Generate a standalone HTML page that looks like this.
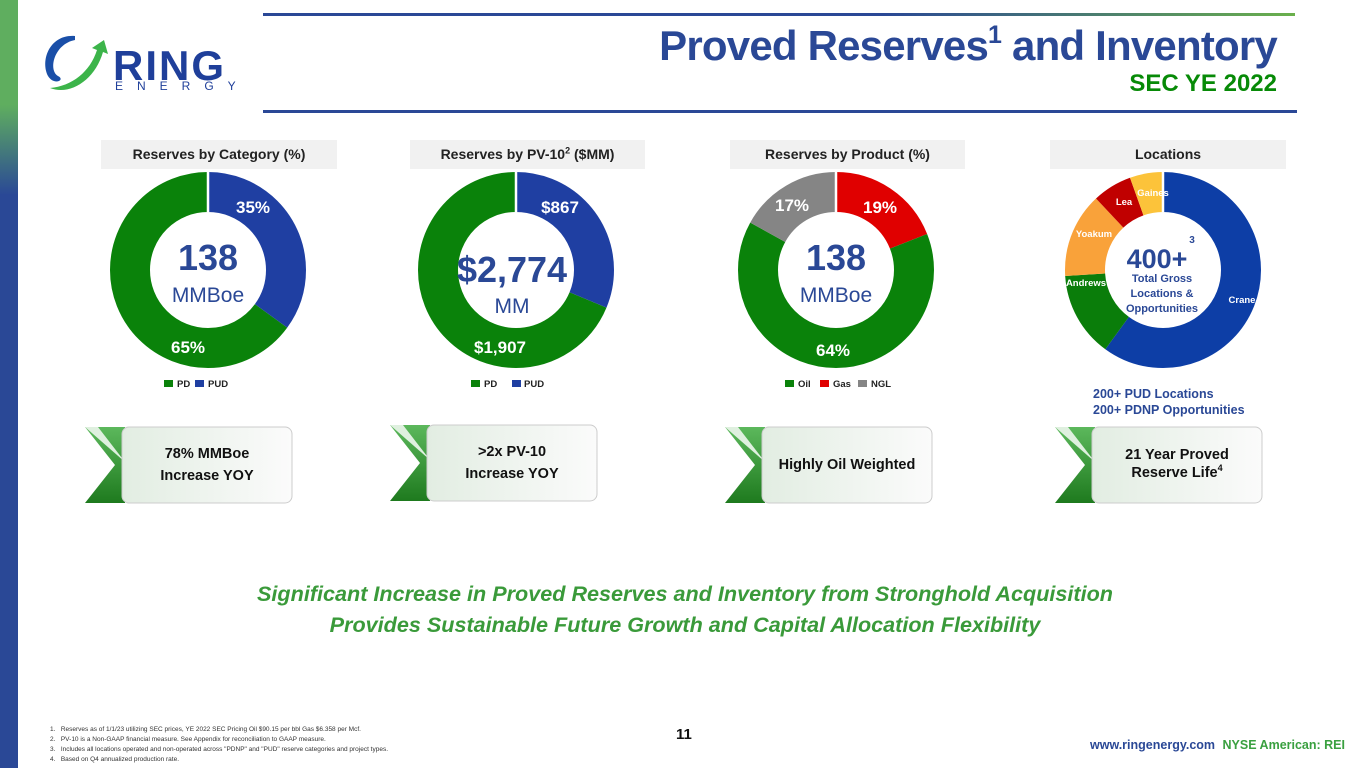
<!DOCTYPE html>
<html><head><meta charset="utf-8"><style>
body{margin:0;width:1365px;height:768px;overflow:hidden;background:#fff;font-family:"Liberation Sans",sans-serif;position:relative}
.a{position:absolute;white-space:nowrap}
.band{position:absolute;top:140px;height:29px;background:#f1f1f1;font-weight:bold;font-size:14px;color:#222;text-align:center;line-height:29px}
.bt{position:absolute;font-weight:bold;font-size:14.5px;color:#111;text-align:center;line-height:22px}
.ft{font-size:6.5px;color:#333;line-height:10px}
</style></head><body>
<div class="a" style="left:0;top:0;width:18px;height:768px;background:linear-gradient(#5fae5f 0,#5fae5f 105px,#2a4896 195px,#2a4896 100%)"></div>
<div class="a" style="left:263px;top:13px;width:1032px;height:3px;background:linear-gradient(90deg,#2a4896 0,#2a4896 60%,#6ab04c 100%)"></div>
<div class="a" style="left:263px;top:110px;width:1034px;height:3px;background:#2a4896"></div>
<!-- logo -->
<svg class="a" style="left:40px;top:30px" width="200" height="70">
<path d="M35 6 C10 4 0 30 8 46 C14 56 26 50 18 46 C8 40 14 14 35 10 Z" fill="#1a4fa8"/>
<path d="M10 58 C30 66 55 50 63 22 L68 24 L64 10 L52 18 L57 20 C50 42 32 56 10 58 Z" fill="#3cb44a"/>
<text x="73" y="50" font-family="Liberation Sans" font-weight="bold" font-size="42" fill="#1f3f9a" letter-spacing="2">RING</text>
<text x="75" y="60" font-family="Liberation Sans" font-size="12" fill="#1f3f9a" letter-spacing="14">ENERGY</text>
</svg>
<div class="a" style="right:88px;top:22px;font-size:42px;font-weight:bold;color:#2a4896;letter-spacing:-0.8px">Proved Reserves<sup style="font-size:25px;vertical-align:17px;line-height:0">1</sup> and Inventory</div>
<div class="a" style="right:88px;top:70px;font-size:24px;font-weight:bold;color:#078a07">SEC YE 2022</div>

<div class="band" style="left:101px;width:236px">Reserves by Category (%)</div>
<div class="band" style="left:410px;width:235px">Reserves by PV-10<sup style="font-size:9px;line-height:0">2</sup> ($MM)</div>
<div class="band" style="left:730px;width:235px">Reserves by Product (%)</div>
<div class="band" style="left:1050px;width:236px">Locations</div>

<svg class="a" style="left:0;top:0" width="1365" height="420" font-family="Liberation Sans" font-weight="bold">
<g fill="none" stroke-width="40">
<g transform="rotate(-90 208 270)">
<circle cx="208" cy="270" r="78" stroke="#0a820a" stroke-dasharray="318.56 490.09" stroke-dashoffset="-171.53"/>
<circle cx="208" cy="270" r="78" stroke="#1f3fa2" stroke-dasharray="171.53 490.09"/>
</g>
<g transform="rotate(-90 516 270)">
<circle cx="516" cy="270" r="78" stroke="#0a820a" stroke-dasharray="336.9 490.09" stroke-dashoffset="-153.2"/>
<circle cx="516" cy="270" r="78" stroke="#1f3fa2" stroke-dasharray="153.2 490.09"/>
</g>
<g transform="rotate(-90 836 270)">
<circle cx="836" cy="270" r="78" stroke="#e00000" stroke-dasharray="93.1 490.09"/>
<circle cx="836" cy="270" r="78" stroke="#0a820a" stroke-dasharray="313.7 490.09" stroke-dashoffset="-93.1"/>
<circle cx="836" cy="270" r="78" stroke="#858585" stroke-dasharray="83.3 490.09" stroke-dashoffset="-406.8"/>
</g>
<g transform="rotate(-90 1163 270)">
<circle cx="1163" cy="270" r="78" stroke="#0d3ea6" stroke-dasharray="294 490.09"/>
<circle cx="1163" cy="270" r="78" stroke="#0a7d0a" stroke-dasharray="68.6 490.09" stroke-dashoffset="-294"/>
<circle cx="1163" cy="270" r="78" stroke="#f9a23a" stroke-dasharray="68.6 490.09" stroke-dashoffset="-362.6"/>
<circle cx="1163" cy="270" r="78" stroke="#c00000" stroke-dasharray="31.9 490.09" stroke-dashoffset="-431.2"/>
<circle cx="1163" cy="270" r="78" stroke="#fcc33a" stroke-dasharray="27 490.09" stroke-dashoffset="-463.1"/>
</g>
</g>
<g stroke="#fff" stroke-width="2.5">
<line x1="208" y1="172" x2="208" y2="212"/><line x1="516" y1="172" x2="516" y2="212"/><line x1="836" y1="172" x2="836" y2="212"/><line x1="1163" y1="172" x2="1163" y2="212"/>
</g>
<g fill="#fff" font-size="17" text-anchor="middle">
<text x="253" y="213">35%</text><text x="188" y="353">65%</text>
<text x="560" y="213">$867</text><text x="500" y="353">$1,907</text>
<text x="880" y="213">19%</text><text x="792" y="211">17%</text><text x="833" y="356">64%</text>
</g>
<g fill="#fff" font-size="9.5" text-anchor="middle">
<text x="1242" y="303">Crane</text><text x="1086" y="286">Andrews</text><text x="1094" y="237">Yoakum</text><text x="1124" y="205">Lea</text><text x="1153" y="196">Gaines</text>
</g>
<g fill="#2a4896" text-anchor="middle">
<text x="208" y="270" font-size="36">138</text><text x="208" y="302" font-size="21" font-weight="normal">MMBoe</text>
<text x="512" y="282" font-size="36">$2,774</text><text x="512" y="313" font-size="21" font-weight="normal">MM</text>
<text x="836" y="270" font-size="36">138</text><text x="836" y="302" font-size="21" font-weight="normal">MMBoe</text>
<text x="1157" y="268" font-size="27">400+</text><text x="1192" y="243" font-size="10">3</text>
<text x="1162" y="282" font-size="11">Total Gross</text><text x="1162" y="297" font-size="11">Locations &amp;</text><text x="1162" y="312" font-size="11">Opportunities</text>
</g>
<g font-size="9.5" fill="#222">
<rect x="164" y="380" width="9" height="7" fill="#0a820a"/><text x="177" y="387">PD</text>
<rect x="195" y="380" width="9" height="7" fill="#1f3fa2"/><text x="208" y="387">PUD</text>
<rect x="471" y="380" width="9" height="7" fill="#0a820a"/><text x="484" y="387">PD</text>
<rect x="512" y="380" width="9" height="7" fill="#1f3fa2"/><text x="524" y="387">PUD</text>
<rect x="785" y="380" width="9" height="7" fill="#0a820a"/><text x="798" y="387">Oil</text>
<rect x="820" y="380" width="9" height="7" fill="#e00000"/><text x="833" y="387">Gas</text>
<rect x="858" y="380" width="9" height="7" fill="#858585"/><text x="871" y="387">NGL</text>
</g>
<g fill="#2a4896" font-size="12.5"><text x="1093" y="398">200+ PUD Locations</text><text x="1093" y="414">200+ PDNP Opportunities</text></g>
</svg>

<svg class="a" style="left:0;top:420px" width="1365" height="90">
<defs>
<linearGradient id="g" x1="0" x2="0" y1="0" y2="1"><stop offset="0" stop-color="#5cb85c"/><stop offset="1" stop-color="#1e7a1e"/></linearGradient>
<linearGradient id="w" x1="0" x2="1"><stop offset="0" stop-color="#e2ede2"/><stop offset="1" stop-color="#fbfbfb"/></linearGradient>
</defs>
<g id="b1">
<polygon points="85,7 125,7 125,83 85,83 115,45" fill="url(#g)"/>
<polygon points="85,7 98,7 125,42" fill="#dff0df"/>
<rect x="122" y="7" width="170" height="76" rx="7" fill="url(#w)" stroke="#ccc"/>
</g>
<use href="#b1" x="305" y="-2"/>
<use href="#b1" x="640" y="0"/>
<use href="#b1" x="970" y="0"/>
</svg>
<div class="bt" style="left:122px;top:443px;width:170px">78% MMBoe<br>Increase YOY</div>
<div class="bt" style="left:427px;top:441px;width:170px">&gt;2x PV-10<br>Increase YOY</div>
<div class="bt" style="left:762px;top:454px;width:170px">Highly Oil Weighted</div>
<div class="bt" style="left:1092px;top:446px;width:170px;line-height:18px">21 Year Proved<br>Reserve Life<sup style="font-size:9px;line-height:0">4</sup></div>

<div class="a" style="left:0;width:1370px;text-align:center;top:578px;font-size:21.6px;font-weight:bold;font-style:italic;color:#3a9a3a;line-height:31px">Significant Increase in Proved Reserves and Inventory from Stronghold Acquisition<br>Provides Sustainable Future Growth and Capital Allocation Flexibility</div>

<div class="a ft" style="left:50px;top:725px">1.&nbsp;&nbsp; Reserves as of 1/1/23 utilizing SEC prices, YE 2022 SEC Pricing Oil $90.15 per bbl Gas $6.358 per Mcf.<br>2.&nbsp;&nbsp; PV-10 is a Non-GAAP financial measure. See Appendix for reconciliation to GAAP measure.<br>3.&nbsp;&nbsp; Includes all locations operated and non-operated across "PDNP" and "PUD" reserve categories and project types.<br>4.&nbsp;&nbsp; Based on Q4 annualized production rate.</div>
<div class="a" style="left:676px;top:726px;font-size:15px;font-weight:bold;color:#111">11</div>
<div class="a" style="left:1090px;top:738px;font-size:12.5px;font-weight:bold;color:#2a4896">www.ringenergy.com <span style="color:#3aa040;margin-left:4px">NYSE American: REI</span></div>
</body></html>
